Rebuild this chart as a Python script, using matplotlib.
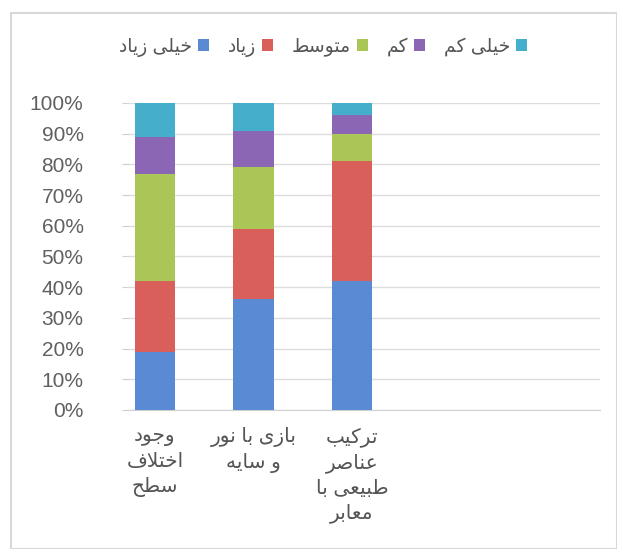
import matplotlib
matplotlib.use("Agg")
import matplotlib.pyplot as plt
import numpy as np

plt.rcParams['font.family'] = ['Liberation Sans', 'DejaVu Sans']

categories = ["وجود\nاختلاف\nسطح", "بازی با نور\nو سایه", "ترکیب\nعناصر\nطبیعی با\nمعابر"]
series_names = ["خیلی زیاد", "زیاد", "متوسط", "کم", "خیلی کم"]
colors = ["#5a8ad4", "#d9605a", "#a9c657", "#8a66b4", "#45aecb"]

# percent values per series (bottom to top), one per category
very_high = [19, 36, 42]
high = [23, 23, 39]
medium = [35, 20, 9]
low = [12, 12, 6]
very_low = [11, 9, 4]
values = [very_high, high, medium, low, very_low]

# presentation forms: isolated, final, initial, medial (right-joining letters have 2)
forms = {
    'ا': (0xFE8D, 0xFE8E), 'د': (0xFEA9, 0xFEAA), 'ر': (0xFEAD, 0xFEAE),
    'ز': (0xFEAF, 0xFEB0), 'و': (0xFEED, 0xFEEE),
    'ب': (0xFE8F, 0xFE90, 0xFE91, 0xFE92), 'ت': (0xFE95, 0xFE96, 0xFE97, 0xFE98),
    'ج': (0xFE9D, 0xFE9E, 0xFE9F, 0xFEA0), 'ح': (0xFEA1, 0xFEA2, 0xFEA3, 0xFEA4),
    'خ': (0xFEA5, 0xFEA6, 0xFEA7, 0xFEA8), 'س': (0xFEB1, 0xFEB2, 0xFEB3, 0xFEB4),
    'ص': (0xFEB9, 0xFEBA, 0xFEBB, 0xFEBC), 'ط': (0xFEC1, 0xFEC2, 0xFEC3, 0xFEC4),
    'ع': (0xFEC9, 0xFECA, 0xFECB, 0xFECC), 'ف': (0xFED1, 0xFED2, 0xFED3, 0xFED4),
    'ل': (0xFEDD, 0xFEDE, 0xFEDF, 0xFEE0), 'م': (0xFEE1, 0xFEE2, 0xFEE3, 0xFEE4),
    'ن': (0xFEE5, 0xFEE6, 0xFEE7, 0xFEE8), 'ه': (0xFEE9, 0xFEEA, 0xFEEB, 0xFEEC),
    'ک': (0xFB8E, 0xFB8F, 0xFB90, 0xFB91), 'ی': (0xFBFC, 0xFBFD, 0xFBFE, 0xFBFF),
}


def shape_line(s):
    out = []
    i = 0
    while i < len(s):
        c = s[i]
        if c not in forms:
            out.append(c)
            i += 1
            continue
        prev = s[i - 1] if i > 0 else ''
        join_prev = prev in forms and len(forms[prev]) == 4
        if c == 'ل' and i + 1 < len(s) and s[i + 1] == 'ا':
            out.append(chr(0xFEFC if join_prev else 0xFEFB))
            i += 2
            continue
        nxt = s[i + 1] if i + 1 < len(s) else ''
        f = forms[c]
        join_next = len(f) == 4 and nxt in forms
        if join_prev and join_next:
            g = f[3]
        elif join_next:
            g = f[2]
        elif join_prev:
            g = f[1]
        else:
            g = f[0]
        out.append(chr(g))
        i += 1
    return ''.join(reversed(out))


def fa(s):
    return '\n'.join(shape_line(line) for line in s.split('\n'))


fig = plt.figure(figsize=(6.17, 5.49), dpi=100)
ax = fig.add_axes([0.2075, 0.2532, 0.7649, 0.5592])

x = np.arange(len(categories))
bottom = np.zeros(len(categories))
handles = []
for name, vals, col in zip(series_names, values, colors):
    vals = np.array(vals) / 100.0
    b = ax.bar(x, vals, 0.41, bottom=bottom, color=col, label=fa(name), zorder=3)
    handles.append(b)
    bottom += vals

ax.set_xlim(-0.274, 4.52)
ax.set_ylim(0, 1)
ax.set_yticks(np.arange(0, 1.01, 0.1))
ax.set_yticklabels(["{}%".format(v) for v in range(0, 101, 10)])
ax.yaxis.grid(True, color="#dcdcdc", linewidth=1, zorder=0)
ax.tick_params(axis='y', length=4, color="#d0d0d0", labelsize=15, labelcolor="#606060", pad=28)
ax.set_xticks([])
for side in ['top', 'right', 'left']:
    ax.spines[side].set_visible(False)
ax.spines['bottom'].set_color("#d0d0d0")

for xi, lab in zip(x, categories):
    ax.text(xi, -0.055, fa(lab), ha='center', va='top', fontsize=14.5, color="#555555",
            linespacing=1.4, transform=ax.get_xaxis_transform())

fig.legend(handles, [fa(n) for n in series_names], loc='center', ncol=5,
           bbox_to_anchor=(323 / 617, 1 - 47 / 549), frameon=False, fontsize=13.5,
           markerfirst=False, handlelength=0.6, handleheight=0.6, handletextpad=0.3,
           columnspacing=1.0, labelcolor="#555555")

fig.patches.append(plt.Rectangle((11 / 617, 0), 1 - 11 / 617, 1 - 13 / 549, transform=fig.transFigure,
                                 fill=False, edgecolor="#d8d8d8", linewidth=1.5))

fig.savefig("out.png", dpi=100)
